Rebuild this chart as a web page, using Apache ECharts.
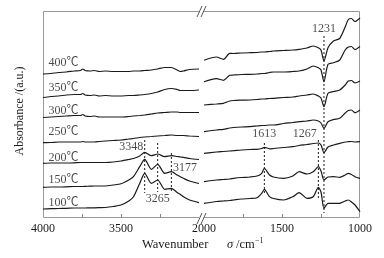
<!DOCTYPE html>
<html>
<head>
<meta charset="utf-8">
<script src="https://cdn.jsdelivr.net/npm/echarts@6/dist/echarts.min.js"></script>
<style>
html, body { margin: 0; padding: 0; background: #fff; }
#main { width: 384px; height: 258px; }
</style>
</head>
<body>
<div id="main"></div>
<script>
const FONT = '"Liberation Serif", "Times New Roman", "Noto Sans CJK SC", serif';

// wavenumbers (cm-1) of the two axis pieces
const leftWn = [4000, 3950, 3900, 3850, 3800, 3760, 3745, 3730, 3700, 3670, 3640, 3600, 3550, 3500, 3450, 3420, 3380, 3348, 3305, 3265, 3220, 3177, 3140, 3120, 3100, 3060, 3000];
const rightWn = [2000, 1920, 1875, 1835, 1810, 1760, 1705, 1660, 1630, 1613, 1580, 1555, 1490, 1430, 1390, 1340, 1300, 1267, 1250, 1231, 1205, 1170, 1130, 1095, 1075, 1055, 1032, 1000];

const temps = ['400℃', '350℃', '300℃', '250℃', '200℃', '150℃', '100℃'];

// absorbance (offset, a.u.)
const left400 = [144, 144.5, 145.5, 146, 147, 147.5, 149, 147.5, 147, 147.5, 146.5, 147, 146.5, 146.5, 146.5, 147, 147, 147.5, 148, 149, 150.5, 150.5, 148, 146.5, 147, 148.5, 149];
const left350 = [120.5, 121.5, 122, 123, 123.5, 123.5, 124.5, 123, 122.5, 123, 122, 122.5, 122, 122, 122.5, 122.5, 123, 123.5, 124.5, 126, 128.5, 129.5, 128.5, 127.5, 127.5, 127.5, 128];
const left300 = [100.5, 101, 101.5, 102, 102.5, 102.5, 103.5, 102, 101.5, 102, 101, 101, 101, 101, 101.5, 102, 102.5, 103, 104, 105, 105.5, 106, 106, 105.5, 105.5, 105.5, 105.5];
const left250 = [75.3, 75.5, 76, 76, 76, 76, 76.5, 76, 76, 76, 76.5, 77, 77.5, 78, 79, 79.5, 80.5, 81, 81.5, 82, 82.5, 83, 82.5, 82.5, 82.5, 82, 81.5];
const left200 = [54.7, 55, 55, 55, 55.2, 55.5, 55.5, 55.5, 55.5, 55.5, 55.5, 55.5, 56, 57, 58.5, 59.5, 62, 65.7, 62.3, 64, 61.3, 62.3, 61.5, 61, 60.7, 59.5, 58.5];
const left150 = [30.7, 31, 31, 31.2, 31.5, 31.5, 31.5, 31.7, 31.8, 32, 32, 32, 33, 34.2, 38, 41.3, 51.3, 58.7, 48.7, 53.7, 44.7, 46.3, 43, 41.2, 39.7, 37, 34.5];
const left100 = [9, 9.3, 9.5, 9.7, 10, 10, 10, 10, 10.2, 10.2, 10.3, 10.5, 11.5, 13, 17, 21.3, 34.7, 44.7, 34.7, 38, 28.7, 29.7, 25.5, 23.5, 21.3, 18, 15.3];

const right400 = [157.7, 161, 158.7, 164.7, 164.5, 165, 165.3, 165.5, 166, 166, 166.5, 167, 167.5, 168, 168.7, 170, 172, 170.3, 168, 157, 170.3, 177, 179.5, 191, 198.5, 199.5, 196.5, 200];
const right350 = [136.3, 139.3, 137.7, 142.7, 143, 143.5, 143.7, 144, 144.5, 144.5, 145.5, 146, 146, 146.5, 147, 149, 152, 150.3, 148, 136.3, 153.7, 155.3, 158, 168, 171, 171.5, 168.5, 171.5];
const right300 = [113, 114, 114.7, 117, 117.5, 117.8, 118, 118.5, 119, 119, 119.5, 119.7, 120.5, 121, 122, 123, 124, 122, 120, 111.3, 124.7, 126.5, 128, 133, 137, 137.5, 135, 137];
const right250 = [86.3, 88, 88.7, 90, 90.5, 91, 91.3, 92, 92.5, 92.5, 93, 93, 94.5, 95.5, 96.3, 97, 98, 97, 95, 89.7, 96.3, 98.5, 99.7, 105, 107.5, 108, 105.3, 108];
const right200 = [64.7, 66, 66.5, 67, 67.3, 68, 68.5, 68.7, 69.5, 70.7, 69.2, 69.5, 70.5, 71.3, 72.5, 73.5, 74.5, 75, 73, 65.3, 71, 73, 74.7, 76, 76.3, 76.5, 76, 76.3];
const right150 = [36.3, 38, 38.5, 39, 39.7, 40.5, 41, 42, 44.7, 49.7, 43, 41, 39.7, 42, 46.3, 44, 46.3, 51.3, 47, 38, 41, 41.3, 40.7, 43, 44.7, 43.5, 41.3, 39.7];
const right100 = [14.7, 16.5, 17, 17.5, 18, 19, 19.5, 20.3, 24.7, 28.7, 21.3, 19.5, 18, 21.3, 25.3, 19.7, 21.3, 30.7, 26, 9.7, 14.7, 14.7, 14.7, 17, 18, 16, 13, 6.3];

// label heights of the curve names (a.u.)
const tempLabelY = [155, 130, 107, 86, 60, 38, 15];
const tempLabelWn = 3968;

// marked bands
const peakWn = [3348, 3265, 3177, 1613, 1267, 1231];
const peakTop = [78, 75, 65, 75, 78, 182];
const peakBottom = [25, 26, 26, 25, 18, 5];
const peakLabelY = [71, 19, 50, 84, 84, 189];

// tick labels
const leftTicks = [3750, 3500, 3250];
const leftLabels = [4000, 3500];
const rightTicks = [1750, 1500, 1250];
const rightLabels = [2000, 1500, 1000];

const leftSets = [left400, left350, left300, left250, left200, left150, left100];
const rightSets = [right400, right350, right300, right250, right200, right150, right100];
const peakLabelPos = ['left', 'inside', 'right', 'inside', 'left', 'inside'];

var myChart = echarts.init(document.getElementById('main'));

var lineStyle = { color: '#1a1a1a', width: 1.2 };
var series = [];
temps.forEach(function (t, i) {
    series.push({
        name: t, type: 'line', xAxisIndex: 0, yAxisIndex: 0,
        symbol: 'none', smooth: 0.25, lineStyle: lineStyle,
        data: leftWn.map(function (w, j) { return [w, leftSets[i][j]]; })
    });
    series.push({
        name: t, type: 'line', xAxisIndex: 1, yAxisIndex: 1,
        symbol: 'none', smooth: 0.25, lineStyle: lineStyle,
        data: rightWn.map(function (w, j) { return [w, rightSets[i][j]]; })
    });
});

// curve names
series.push({
    type: 'scatter', xAxisIndex: 0, yAxisIndex: 0, symbolSize: 1,
    itemStyle: { color: 'rgba(0,0,0,0)' },
    label: {
        show: true, position: 'right', distance: 0, formatter: '{b}',
        color: '#1a1a1a', fontSize: 12, fontFamily: FONT
    },
    data: temps.map(function (t, i) { return { name: t, value: [tempLabelWn, tempLabelY[i]] }; })
});

// dashed peak lines + labels
peakWn.forEach(function (w, i) {
    var idx = w > 2500 ? 0 : 1;
    series.push({
        type: 'line', xAxisIndex: idx, yAxisIndex: idx, symbol: 'none',
        lineStyle: { color: '#1a1a1a', width: 1, type: [2, 2] },
        data: [[w, peakTop[i]], [w, peakBottom[i]]]
    });
    series.push({
        type: 'scatter', xAxisIndex: idx, yAxisIndex: idx, symbolSize: 1,
        itemStyle: { color: 'rgba(0,0,0,0)' },
        label: {
            show: true, position: peakLabelPos[i], distance: 1,
            formatter: String(w), color: '#1a1a1a', fontSize: 12, fontFamily: FONT
        },
        data: [[w, peakLabelY[i]]]
    });
});

function xAx(min, max, ticks, labels, idx) {
    return {
        type: 'value', gridIndex: idx, min: min, max: max, inverse: true, interval: 250,
        axisLine: { show: false },
        splitLine: { show: false },
        axisTick: { show: true, inside: true, length: 4, customValues: ticks, lineStyle: { color: '#888' } },
        axisLabel: {
            customValues: labels, margin: 5, color: '#1a1a1a', fontSize: 12, fontFamily: FONT,
            formatter: function (v) { return String(v); }
        }
    };
}
function yAx(idx) {
    return { type: 'value', gridIndex: idx, min: 0, max: 207, show: false };
}

var option = {
    animation: false,
    backgroundColor: '#fff',
    grid: [
        { left: 43, top: 11, width: 156, height: 207 },
        { left: 204, top: 11, width: 156, height: 207 }
    ],
    xAxis: [xAx(3000, 4000, leftTicks, leftLabels, 0), xAx(1000, 2000, rightTicks, rightLabels, 1)],
    yAxis: [yAx(0), yAx(1)],
    series: series,
    graphic: [
        { type: 'rect', silent: true, z: -1, shape: { x: 43.5, y: 11.5, width: 316, height: 206 },
          style: { fill: 'none', stroke: '#999', lineWidth: 1 } },
        { type: 'rect', silent: true, shape: { x: 199, y: 9, width: 5, height: 5 }, style: { fill: '#fff' } },
        { type: 'rect', silent: true, shape: { x: 199, y: 216, width: 5, height: 5 }, style: { fill: '#fff' } },
        { type: 'line', silent: true, shape: { x1: 197, y1: 17, x2: 202, y2: 6 }, style: { stroke: '#555', lineWidth: 1 } },
        { type: 'line', silent: true, shape: { x1: 201, y1: 17, x2: 206, y2: 6 }, style: { stroke: '#555', lineWidth: 1 } },
        { type: 'line', silent: true, shape: { x1: 197, y1: 224, x2: 202, y2: 213 }, style: { stroke: '#555', lineWidth: 1 } },
        { type: 'line', silent: true, shape: { x1: 201, y1: 224, x2: 206, y2: 213 }, style: { stroke: '#555', lineWidth: 1 } },
        { type: 'text', silent: true, x: 20, y: 111, rotation: Math.PI / 2,
          style: { text: 'Absorbance /(a.u.)', fill: '#1a1a1a', font: '12px ' + FONT, align: 'center', verticalAlign: 'middle' } },
        { type: 'text', silent: true, x: 142, y: 245,
          style: { text: 'Wavenumber', fill: '#1a1a1a', font: '12.5px ' + FONT, verticalAlign: 'middle' } },
        { type: 'text', silent: true, x: 227, y: 245,
          style: { text: 'σ', fill: '#1a1a1a', font: 'italic 12.5px ' + FONT, verticalAlign: 'middle' } },
        { type: 'text', silent: true, x: 236, y: 245,
          style: { text: '/cm', fill: '#1a1a1a', font: '12.5px ' + FONT, verticalAlign: 'middle' } },
        { type: 'text', silent: true, x: 255, y: 241,
          style: { text: '−1', fill: '#1a1a1a', font: '8px ' + FONT, verticalAlign: 'middle' } }
    ]
};

myChart.setOption(option);
</script>
</body>
</html>
